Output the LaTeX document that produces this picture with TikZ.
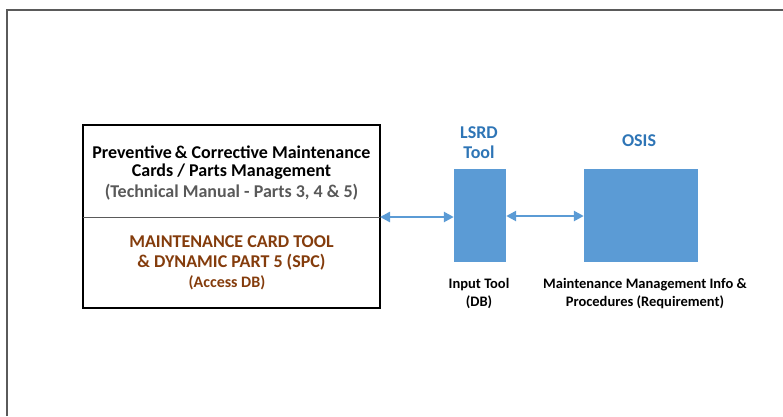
\documentclass[tikz,border=0pt]{standalone}
\usepackage{fontspec}
\setmainfont{Carlito}
\usetikzlibrary{arrows.meta}
\definecolor{frame}{HTML}{5A5A5A}
\definecolor{boxblue}{HTML}{5B9BD5}
\definecolor{lblblue}{HTML}{2E75B6}
\definecolor{brown}{HTML}{843C0C}
\definecolor{graytxt}{HTML}{595959}
\begin{document}
\begin{tikzpicture}[x=1pt,y=-1pt,
  txt/.style={inner sep=0pt, align=center, font=\bfseries\fontsize{18}{20}\selectfont},
  small/.style={inner sep=0pt, align=center, font=\bfseries\fontsize{14.5}{18}\selectfont},
  bluebox/.style={fill=boxblue, draw=none},
  link/.style={boxblue, line width=2.6pt, {Triangle[length=10pt,width=10pt]}-{Triangle[length=10pt,width=10pt]}}]
\useasboundingbox (0,0) rectangle (783,416);
\draw[frame, line width=1.5pt] (7,416) -- (7,10) -- (783,10);
% left box
\node[draw=black, line width=1.3pt, minimum width=297pt, minimum height=183pt, inner sep=0pt] (left) at (231.5,216.5) {};
\coordinate (divL) at (83,217);
\coordinate (divR) at (380,217);
\draw[frame, line width=0.6pt] (divL) -- (divR);
\node[txt] (t1) at (231.5,152) {Preventive\,\& Corrective Maintenance};
\node[txt] (t2) at (231.5,172) {Cards / Parts Management};
\node[txt, text=graytxt] (t3) at (231.5,192) {(Technical Manual - Parts 3, 4 \& 5)};
\node[txt, text=brown] (t4) at (231.5,242) {MAINTENANCE CARD TOOL};
\node[txt, text=brown] (t5) at (231.5,262) {\& DYNAMIC PART 5 (SPC)};
\node[inner sep=0pt, font=\bfseries\fontsize{16}{18}\selectfont, text=brown] (t6) at (227,283) {(Access DB)};
% LSRD
\node[bluebox, minimum width=52pt, minimum height=93pt, inner sep=0pt] (lsrd) at (480,215.5) {};
\node[txt, text=lblblue] (lsrdl) at (479,143) {LSRD\\Tool};
\node[small] (inp) at (479,294) {Input Tool\\(DB)};
% OSIS
\node[bluebox, minimum width=114pt, minimum height=93pt, inner sep=0pt] (osis) at (641,215.5) {};
\node[txt, text=lblblue] (osisl) at (639,141) {OSIS};
\node[small] (mm) at (645,294) {Maintenance Management Info \&\\Procedures (Requirement)};
% arrows
\draw[link] (divR) -- (lsrd.west |- divR);
\draw[link] (lsrd.east |- 0,216) -- (osis.west |- 0,216);
\end{tikzpicture}
\end{document}
